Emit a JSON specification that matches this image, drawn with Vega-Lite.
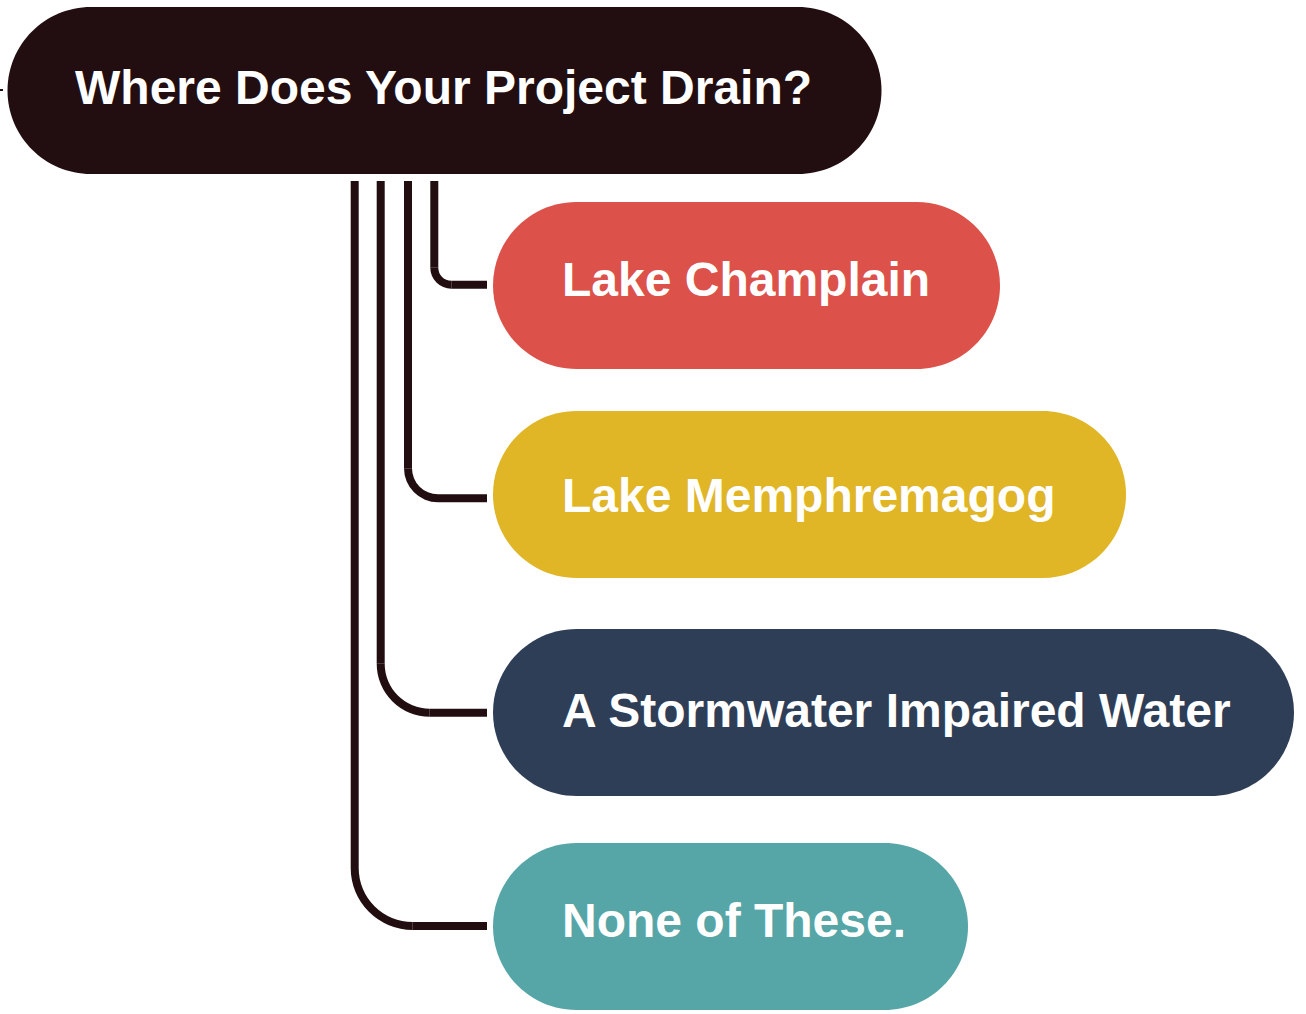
{
  "$schema": "https://vega.github.io/schema/vega-lite/v6.json",
  "width": 1306,
  "height": 1014,
  "padding": 0,
  "autosize": "none",
  "background": "white",
  "config": {"view": {"stroke": null}},
  "datasets": {
    "pills": [
      {"label": "Where Does Your Project Drain?", "x1": 7.5, "x2": 881.5, "y1": 7, "y2": 174, "tx": 75, "ty": 103.5, "color": "root"},
      {"label": "Lake Champlain", "x1": 493, "x2": 1000, "y1": 202, "y2": 369, "tx": 562, "ty": 296, "color": "champlain"},
      {"label": "Lake Memphremagog", "x1": 493, "x2": 1126, "y1": 411, "y2": 578, "tx": 562, "ty": 512, "color": "memphremagog"},
      {"label": "A Stormwater Impaired Water", "x1": 493, "x2": 1294, "y1": 629, "y2": 796, "tx": 562, "ty": 727, "color": "stormwater"},
      {"label": "None of These.", "x1": 493, "x2": 968, "y1": 843, "y2": 1010, "tx": 562, "ty": 937, "color": "none"}
    ],
    "connectors": [
      {"vx": 434.3, "vtop": 181, "vbottom": 267.7, "hy": 284.7, "hx1": 451.3, "hx2": 487, "cx": 451.3, "cy": 267.7, "ro": 21, "ri": 13},
      {"vx": 408, "vtop": 181, "vbottom": 468.3, "hy": 498.3, "hx1": 438, "hx2": 487, "cx": 438, "cy": 468.3, "ro": 34, "ri": 26},
      {"vx": 380.7, "vtop": 181, "vbottom": 663.7, "hy": 712.7, "hx1": 429.7, "hx2": 487, "cx": 429.7, "cy": 663.7, "ro": 53, "ri": 45},
      {"vx": 354.7, "vtop": 181, "vbottom": 868, "hy": 926, "hx1": 412.7, "hx2": 487, "cx": 412.7, "cy": 868, "ro": 62, "ri": 54}
    ],
    "stub": [{"x1": 0, "x2": 3, "y": 90}]
  },
  "layer": [
    {
      "data": {"name": "connectors"},
      "mark": {"type": "rule", "color": "#220e10", "strokeWidth": 8, "strokeCap": "butt"},
      "encoding": {
        "x": {"field": "vx", "type": "quantitative", "scale": {"domain": [0, 1306], "nice": false, "zero": false}, "axis": null},
        "y": {"field": "vtop", "type": "quantitative", "scale": {"domain": [0, 1014], "nice": false, "zero": false, "reverse": true}, "axis": null},
        "y2": {"field": "vbottom"}
      }
    },
    {
      "data": {"name": "connectors"},
      "mark": {"type": "rule", "color": "#220e10", "strokeWidth": 8, "strokeCap": "butt"},
      "encoding": {
        "x": {"field": "hx1", "type": "quantitative"},
        "x2": {"field": "hx2"},
        "y": {"field": "hy", "type": "quantitative"}
      }
    },
    {
      "data": {"name": "connectors"},
      "mark": {"type": "arc", "color": "#220e10", "theta": 3.14159265, "theta2": 4.71238898},
      "encoding": {
        "x": {"field": "cx", "type": "quantitative"},
        "y": {"field": "cy", "type": "quantitative"},
        "radius": {"field": "ro", "type": "quantitative", "scale": null},
        "radius2": {"field": "ri"}
      }
    },
    {
      "data": {"name": "stub"},
      "mark": {"type": "rule", "color": "#220e10", "strokeWidth": 2},
      "encoding": {
        "x": {"field": "x1", "type": "quantitative"},
        "x2": {"field": "x2"},
        "y": {"field": "y", "type": "quantitative"}
      }
    },
    {
      "data": {"name": "pills"},
      "mark": {"type": "rect", "cornerRadius": 83.5},
      "encoding": {
        "x": {"field": "x1", "type": "quantitative"},
        "x2": {"field": "x2"},
        "y": {"field": "y1", "type": "quantitative"},
        "y2": {"field": "y2"},
        "color": {
          "field": "color", "type": "nominal", "legend": null,
          "scale": {
            "domain": ["root", "champlain", "memphremagog", "stormwater", "none"],
            "range": ["#220e10", "#dc514a", "#e0b526", "#2f3e57", "#56a5a7"]
          }
        }
      }
    },
    {
      "data": {"name": "pills"},
      "mark": {"type": "text", "font": "Liberation Sans", "fontWeight": "bold", "fontSize": 48, "align": "left", "baseline": "alphabetic", "color": "white"},
      "encoding": {
        "x": {"field": "tx", "type": "quantitative"},
        "y": {"field": "ty", "type": "quantitative"},
        "text": {"field": "label"}
      }
    }
  ]
}
